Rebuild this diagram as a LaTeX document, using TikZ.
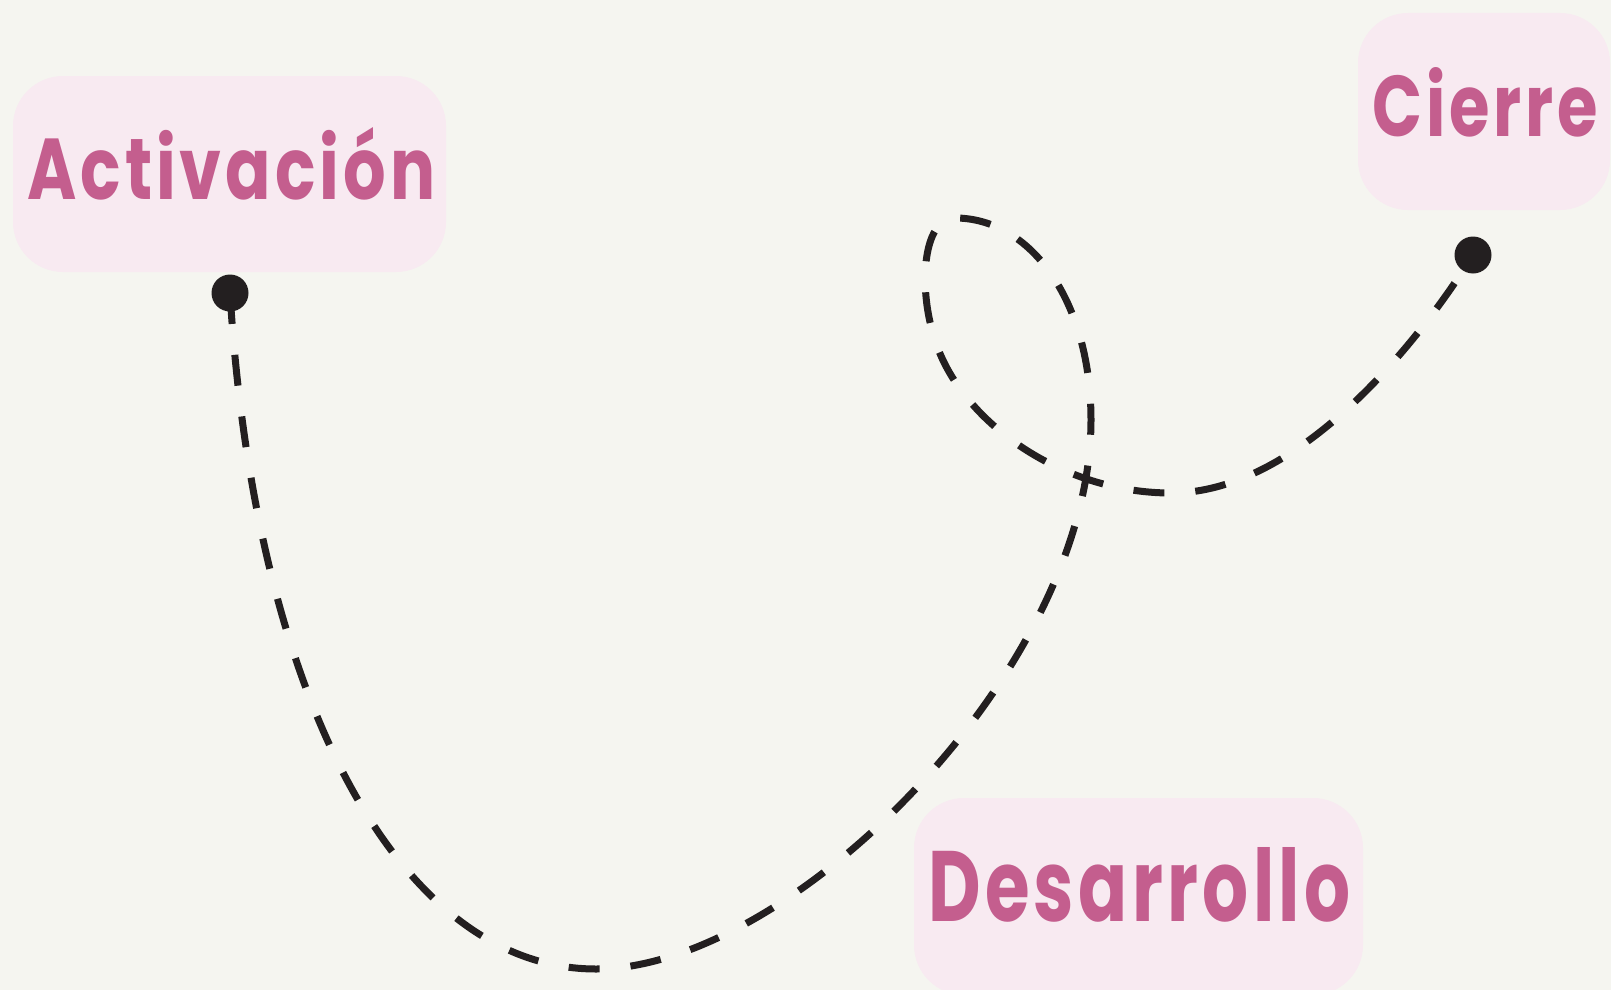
\documentclass[tikz,border=0pt]{standalone}
\usepackage{fontspec}
\usepackage{graphicx}
\newfontfamily\labelfont[LetterSpace=6]{Poppins}
\definecolor{bgc}{HTML}{F5F5F0}
\definecolor{boxc}{HTML}{F8EAF1}
\definecolor{txtc}{HTML}{C45E8E}
\definecolor{inkc}{HTML}{231F20}
\tikzset{
  labelbox/.style={draw=none, fill=boxc, rounded corners=50pt, inner sep=0pt},
  labeltext/.style={anchor=south west, inner sep=0pt, text=txtc, font=\labelfont\bfseries},
  enddot/.style={circle, fill=inkc, inner sep=0pt, minimum size=37pt},
  trail/.style={draw=inkc, line width=7pt, dash pattern=on 31pt off 31pt},
}
\begin{document}
\begin{tikzpicture}[x=1pt,y=-1pt]
\fill[bgc] (0,0) rectangle (1611,990);
\useasboundingbox (0,0) rectangle (1611,990);
\clip (0,0) rectangle (1611,990);
% boxes
\node[labelbox, minimum width=433pt, minimum height=196pt] (actbox) at (229.5,174) {};
\node[labelbox, minimum width=252pt, minimum height=197pt] (cierbox) at (1484,111.5) {};
\node[labelbox, minimum width=449pt, minimum height=197pt] (desbox) at (1138.5,896.5) {};
% labels
\node[labeltext] (acttext) at (27,200) {\resizebox{408pt}{72pt}{Activación}};
\node[labeltext] (ciertext) at (1372,137) {\resizebox{226pt}{69pt}{Cierre}};
\node[labeltext] (destext) at (928,922) {\resizebox{422pt}{74pt}{Desarrollo}};
% path points
\coordinate (bottom) at (596,969);
\coordinate (rise) at (1091,420);
\coordinate (looptop) at (955,218);
\coordinate (loopleft) at (935,340);
\coordinate (dip) at (1171,493);
% trail
\draw[trail] (230,293) coordinate (astart)
  .. controls (255,700) and (400,969) .. (bottom)
  .. controls (790,969) and (1091,670) .. (rise)
  .. controls (1091,300) and (1030,218) .. (looptop)
  .. controls (922,218) and (918,290) .. (loopleft)
  .. controls (960,420) and (1060,493) .. (dip)
  .. controls (1300,493) and (1420,340) .. (1473,255) coordinate (cend);
% dots
\node[enddot] (adot) at (astart) {};
\node[enddot] (cdot) at (cend) {};
\end{tikzpicture}
\end{document}
